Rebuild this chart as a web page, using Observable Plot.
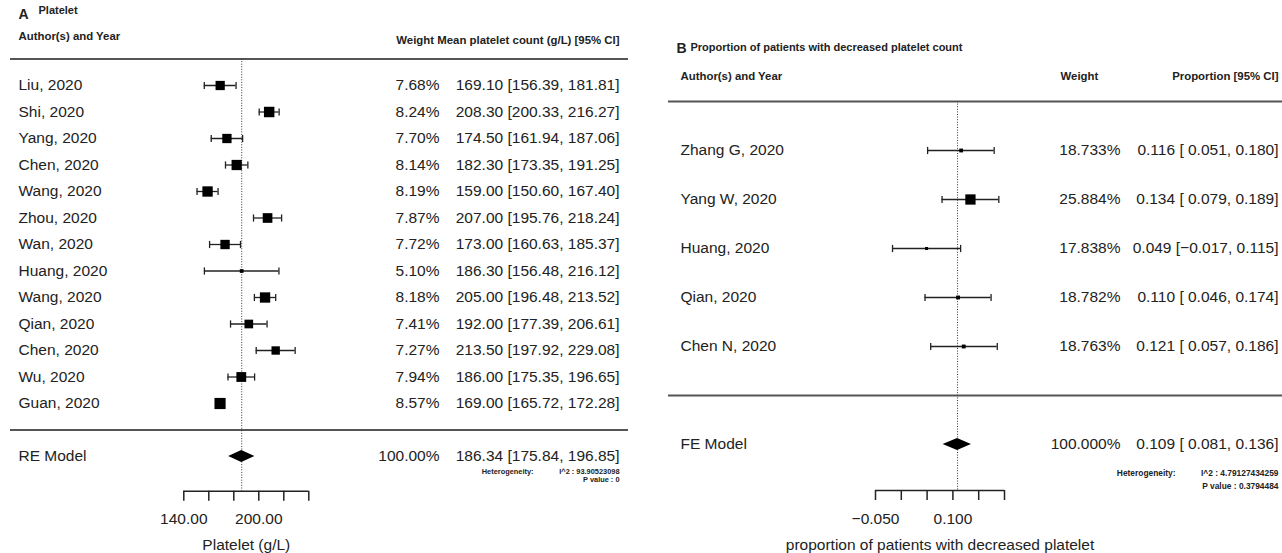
<!DOCTYPE html>
<html><head><meta charset="utf-8">
<script src="https://cdn.jsdelivr.net/npm/d3@7"></script>
<script src="https://cdn.jsdelivr.net/npm/@observablehq/plot@0.6"></script>
<style>
body{margin:0;background:#fff;}
#wrap{position:relative;width:1282px;height:553px;overflow:hidden;background:#fff;}
#wrap > svg{position:absolute;top:0;}
</style></head><body><div id="wrap"></div>
<script>
// ---------- Panel A data ----------
const studiesA = ["Liu, 2020","Shi, 2020","Yang, 2020","Chen, 2020","Wang, 2020","Zhou, 2020","Wan, 2020","Huang, 2020","Wang, 2020","Qian, 2020","Chen, 2020","Wu, 2020","Guan, 2020"];
const weightsA = [7.68,8.24,7.70,8.14,8.19,7.87,7.72,5.10,8.18,7.41,7.27,7.94,8.57];
const meansA = [169.10,208.30,174.50,182.30,159.00,207.00,173.00,186.30,205.00,192.00,213.50,186.00,169.00];
const lowerA = [156.39,200.33,161.94,173.35,150.60,195.76,160.63,156.48,196.48,177.39,197.92,175.35,165.72];
const upperA = [181.81,216.27,187.06,191.25,167.40,218.24,185.37,216.12,213.52,206.61,229.08,196.65,172.28];
const pooledA = [186.34, 175.84, 196.85]; // estimate, lower, upper
const pooledWeightA = 100.00;
const modelA = "RE Model";
const i2A = "93.90523098";
const pA = "0";
const ticksA = [140,160,180,200,220,240];
const tickLabelsA = ["140.00","","","200.00","",""];

// ---------- Panel B data ----------
const studiesB = ["Zhang G, 2020","Yang W, 2020","Huang, 2020","Qian, 2020","Chen N, 2020"];
const weightsB = [18.733,25.884,17.838,18.782,18.763];
const propsB = [0.116,0.134,0.049,0.110,0.121];
const lowerB = [0.051,0.079,-0.017,0.046,0.057];
const upperB = [0.180,0.189,0.115,0.174,0.186];
const pooledB = [0.109, 0.081, 0.136];
const pooledWeightB = 100.000;
const modelB = "FE Model";
const i2B = "4.79127434259";
const pB = "0.3794484";
const ticksB = [-0.05,0,0.05,0.10,0.15,0.20];
const tickLabelsB = ["\u22120.050","","","0.100","",""];

const FONT = "'Liberation Sans', Arial, Helvetica, sans-serif";
const INK = "#222";

const capSymbol = {draw(ctx, size){ const h = Math.sqrt(size/Math.PI); ctx.moveTo(0,-h); ctx.lineTo(0,h); }};

function panel(c) {
  const k = c.names.length;
  const step = (c.lastPx - c.firstPx) / (k - 1);
  const rowAt = px => 1 + (c.lastPx - px) / step;
  const H = 553;
  const data = c.names.map((name, i) => ({name, row: k - i, w: c.weights[i], est: c.est[i], lo: c.lo[i], hi: c.hi[i]}));
  const f = d3.format(c.numFmt);
  const num = (v, pad) => v < 0 ? "\u2212" + f(-v) : (pad ? " " : "") + f(v);
  const padLo = c.lo.some(v => v < 0), padHi = c.hi.some(v => v < 0);
  const ci = (e, l, h) => `${num(e,false)} [${num(l,padLo)}, ${num(h,padHi)}]`;
  const wf = d3.format(c.wFmt);
  const [pe, pl, ph] = c.pooled;
  const dh = 6 / step;
  const diamond = [{y: -1 + dh, x1: pe, x2: pe}, {y: -1, x1: pl, x2: ph}, {y: -1 - dh, x1: pe, x2: pe}];
  const axisRow = rowAt(c.axisPx);
  const labelMap = new Map(c.ticks.map((t, i) => [t, c.tickLabels[i]]));
  const L = c.frameLeft;
  const at = px => px - L; // dx from the frame's left edge
  const fs = 15.5;

  return Plot.plot({
    width: c.width, height: H,
    marginTop: c.firstPx - step, marginBottom: H - c.axisPx,
    marginLeft: c.frameLeft, marginRight: c.frameRight,
    x: {domain: [c.ticks[0], c.ticks[c.ticks.length-1]], range: c.xRange, axis: null},
    y: {domain: [1, k], range: [c.lastPx, c.firstPx], axis: null},
    r: {type: "linear", domain: d3.extent(c.weights), range: c.rRange},
    style: {fontFamily: FONT, color: INK, background: "transparent", overflow: "visible"},
    marks: [
      // horizontal separators
      Plot.ruleY([k + 1, 0], {stroke: "#555", strokeWidth: 2.2}),
      // reference dotted line at pooled estimate
      Plot.ruleX([pe], {stroke: "#333", strokeWidth: 1, strokeDasharray: "1,1.6"}),
      // confidence intervals
      Plot.ruleY(data, {y: "row", x1: "lo", x2: "hi", stroke: INK, strokeWidth: 1.3}),
      Plot.dot(data, {x: "lo", y: "row", symbol: capSymbol, r: 3.6, fill: "none", stroke: INK, strokeWidth: 1.3}),
      Plot.dot(data, {x: "hi", y: "row", symbol: capSymbol, r: 3.6, fill: "none", stroke: INK, strokeWidth: 1.3}),
      // study estimates
      Plot.dot(data, {x: "est", y: "row", r: "w", symbol: "square", fill: "#000", stroke: "none"}),
      // pooled diamond
      Plot.areaX(diamond, {y: "y", x1: "x1", x2: "x2", fill: "#000", curve: "linear"}),
      // axis
      Plot.ruleY([axisRow], {x1: c.ticks[0], x2: c.ticks[c.ticks.length-1], stroke: INK, strokeWidth: 1.5}),
      Plot.axisX({ticks: c.ticks, tickFormat: d => labelMap.get(d) ?? "", tickSize: 10, tickPadding: 12,
                  fontSize: fs, strokeWidth: 1.5, label: null, anchor: "bottom"}),
      Plot.text([c.xLabel], {x: d3.mean([c.ticks[0], c.ticks[c.ticks.length-1]]), y: rowAt(c.xLabelPx), fontSize: fs, fill: INK}),
      // study text columns
      Plot.text(data, {y: "row", text: "name", frameAnchor: "left", dx: at(c.nameX), textAnchor: "start", fontSize: fs, fill: INK}),
      Plot.text(data, {y: "row", text: d => wf(d.w) + "%", frameAnchor: "left", dx: at(c.weightRight), textAnchor: "end", fontSize: fs, fill: INK}),
      Plot.text(data, {y: "row", text: d => ci(d.est, d.lo, d.hi), frameAnchor: "left", dx: at(c.estRight), textAnchor: "end", fontSize: fs, fill: INK}),
      // summary row
      Plot.text([c.model], {y: -1, frameAnchor: "left", dx: at(c.nameX), textAnchor: "start", fontSize: fs, fill: INK}),
      Plot.text([wf(c.pooledWeight) + "%"], {y: -1, frameAnchor: "left", dx: at(c.weightRight), textAnchor: "end", fontSize: fs, fill: INK}),
      Plot.text([ci(pe, pl, ph)], {y: -1, frameAnchor: "left", dx: at(c.estRight), textAnchor: "end", fontSize: fs, fill: INK}),
      // heterogeneity
      Plot.text(["Heterogeneity:"], {y: rowAt(c.hetPx), frameAnchor: "left", dx: at(c.hetRight), textAnchor: "end", fontSize: c.hetFs, fontWeight: "bold", fill: INK}),
      Plot.text(["I^2 : " + c.i2], {y: rowAt(c.hetPx), frameAnchor: "left", dx: at(c.estRight), textAnchor: "end", fontSize: c.hetFs, fontWeight: "bold", fill: INK}),
      Plot.text(["P value : " + c.p], {y: rowAt(c.pPx), frameAnchor: "left", dx: at(c.estRight), textAnchor: "end", fontSize: c.hetFs, fontWeight: "bold", fill: INK}),
      // headers
      Plot.text([c.letter], {y: rowAt(c.letterPx), frameAnchor: "left", dx: at(c.letterX), textAnchor: "start", fontSize: 14, fontWeight: "bold", fill: INK}),
      Plot.text([c.title], {y: rowAt(c.titlePx), frameAnchor: "left", dx: at(c.titleX), textAnchor: "start", fontSize: 11, fontWeight: "bold", fill: INK}),
      Plot.text(["Author(s) and Year"], {y: rowAt(c.headPx), frameAnchor: "left", dx: at(c.nameX), textAnchor: "start", fontSize: 11.4, fontWeight: "bold", fill: INK}),
      ...c.colHeads.map(h => Plot.text([h.text], {y: rowAt(h.px), frameAnchor: "left", dx: at(h.x), textAnchor: h.anchor, fontSize: 11.4, fontWeight: "bold", fill: INK}))
    ]
  });
}

const svgA = panel({
  names: studiesA, weights: weightsA, est: meansA, lo: lowerA, hi: upperA,
  pooled: pooledA, pooledWeight: pooledWeightA, model: modelA, i2: i2A, p: pA,
  ticks: ticksA, tickLabels: tickLabelsA, xLabel: "Platelet (g/L)",
  numFmt: ".2f", wFmt: ".2f",
  width: 640, frameLeft: 10, frameRight: 12, xRange: [183.3, 308.3],
  firstPx: 85, lastPx: 403, axisPx: 490.7, xLabelPx: 545,
  rRange: [2.1, 6.3],
  nameX: 18, weightRight: 439, estRight: 619, hetRight: 533, hetPx: 471.5, pPx: 479.5, hetFs: 7.4,
  letter: "A", letterX: 18, letterPx: 14, title: "Platelet", titleX: 38, titlePx: 10, headPx: 36,
  colHeads: [{text: "Weight Mean platelet count (g/L) [95% CI]", x: 619, px: 40, anchor: "end"}]
});
const svgB = panel({
  names: studiesB, weights: weightsB, est: propsB, lo: lowerB, hi: upperB,
  pooled: pooledB, pooledWeight: pooledWeightB, model: modelB, i2: i2B, p: pB,
  ticks: ticksB, tickLabels: tickLabelsB, xLabel: "proportion of patients with decreased platelet",
  numFmt: ".3f", wFmt: ".3f",
  width: 642, frameLeft: 28, frameRight: 0, xRange: [235, 364],
  firstPx: 150, lastPx: 346, axisPx: 490, xLabelPx: 545,
  rRange: [1.7, 5.8],
  nameX: 40, weightRight: 480, estRight: 638, hetRight: 535, hetPx: 472.7, pPx: 485.7, hetFs: 8.4,
  letter: "B", letterX: 36, letterPx: 48, title: "Proportion of patients with decreased platelet count", titleX: 50, titlePx: 47, headPx: 76,
  colHeads: [{text: "Weight", x: 420, px: 76, anchor: "start"}, {text: "Proportion [95% CI]", x: 638, px: 76, anchor: "end"}]
});
svgA.style.left = "0px";
svgB.style.left = "640px";
document.getElementById("wrap").append(svgA, svgB);
</script>
</body></html>
